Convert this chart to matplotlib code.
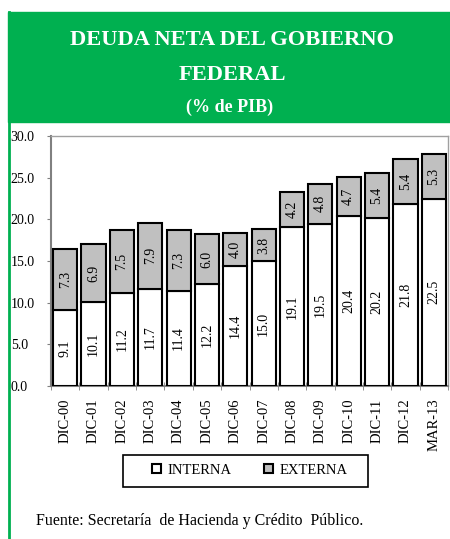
import numpy as np
import matplotlib
matplotlib.use("Agg")
import matplotlib.pyplot as plt
from matplotlib.patches import Rectangle

plt.rcParams['font.family'] = ['Liberation Serif', 'DejaVu Serif']

periodos = ['DIC-00', 'DIC-01', 'DIC-02', 'DIC-03', 'DIC-04', 'DIC-05', 'DIC-06',
            'DIC-07', 'DIC-08', 'DIC-09', 'DIC-10', 'DIC-11', 'DIC-12', 'MAR-13']
interna = [9.1, 10.1, 11.2, 11.7, 11.4, 12.2, 14.4, 15.0, 19.1, 19.5, 20.4, 20.2, 21.8, 22.5]
externa = [7.3, 6.9, 7.5, 7.9, 7.3, 6.0, 4.0, 3.8, 4.2, 4.8, 4.7, 5.4, 5.4, 5.3]
yticks = [0, 5, 10, 15, 20, 25, 30]

verde = '#00B050'
W, H = 450, 539

fig = plt.figure(figsize=(W / 100, H / 100), dpi=100)

# title banner and green left border
fig.patches.append(Rectangle((8 / W, 1 - 122 / H), 1 - 8 / W, 110 / H,
                             transform=fig.transFigure, color=verde, zorder=0))
fig.add_artist(plt.Line2D([9 / W, 9 / W], [0, 1 - 12 / H], transform=fig.transFigure,
                          color=verde, lw=2))
fig.text(232 / W, 1 - 40 / H, 'DEUDA NETA DEL GOBIERNO', color='white',
         fontsize=16.2, fontweight='bold', ha='center', va='center')
fig.text(232 / W, 1 - 75 / H, 'FEDERAL', color='white',
         fontsize=16.2, fontweight='bold', ha='center', va='center')
fig.text(230 / W, 1 - 107 / H, '(% de PIB)', color='white',
         fontsize=13, fontweight='bold', ha='center', va='center')

ax = fig.add_axes([51 / W, 1 - 386 / H, 397 / W, 250 / H])
x = np.arange(len(periodos))
b1 = ax.bar(x, interna, width=0.85, color='white', edgecolor='black', lw=1.5,
            label='INTERNA', zorder=3)
b2 = ax.bar(x, externa, width=0.85, bottom=interna, color='#C0C0C0', edgecolor='black',
            lw=1.5, label='EXTERNA', zorder=3)

for i in range(len(periodos)):
    ax.text(x[i], interna[i] / 2, f'{interna[i]:.1f}', rotation=90, ha='center',
            va='center', fontsize=10, zorder=4)
    ax.text(x[i], interna[i] + externa[i] / 2, f'{externa[i]:.1f}', rotation=90,
            ha='center', va='center', fontsize=10, zorder=4)

ax.set_xlim(-0.5, len(periodos) - 0.5)
ax.set_ylim(0, 30)
ax.set_yticks(yticks)
ax.set_yticklabels([f'{v:.1f}' for v in yticks], ha='left')
ax.tick_params(axis='y', direction='out', length=3, pad=26, labelsize=10,
               color='#808080')
ax.set_xticks(x)
ax.set_xticklabels(periodos, rotation=90, fontsize=10.5)
ax.set_xticks(np.arange(-0.5, len(periodos)), minor=True)
ax.tick_params(axis='x', which='major', length=0, pad=9)
ax.tick_params(axis='x', which='minor', direction='inout', length=6, color='#808080')

for s in ['left', 'bottom']:
    ax.spines[s].set_color('#808080')
    ax.spines[s].set_linewidth(1.5)
for s in ['top', 'right']:
    ax.spines[s].set_color('#A0A0A0')
    ax.spines[s].set_linewidth(1)

# legend box drawn separately so the entries can sit in the middle
fig.patches.append(Rectangle((123 / W, 1 - 487 / H), 245 / W, 32 / H,
                             transform=fig.transFigure, facecolor='white',
                             edgecolor='black', lw=1.2, zorder=1))
leg = fig.legend(handles=[b1, b2], loc='center', bbox_to_anchor=(250 / W, 1 - 470 / H),
                 ncol=2, fontsize=10.5, frameon=False,
                 handlelength=0.6, handleheight=0.6, handletextpad=0.5, columnspacing=2.2)

fig.text(36 / W, 1 - 521 / H, 'Fuente: Secretaría  de Hacienda y Crédito  Público.',
         fontsize=11.5, va='center')

fig.savefig('out.png', dpi=100)
